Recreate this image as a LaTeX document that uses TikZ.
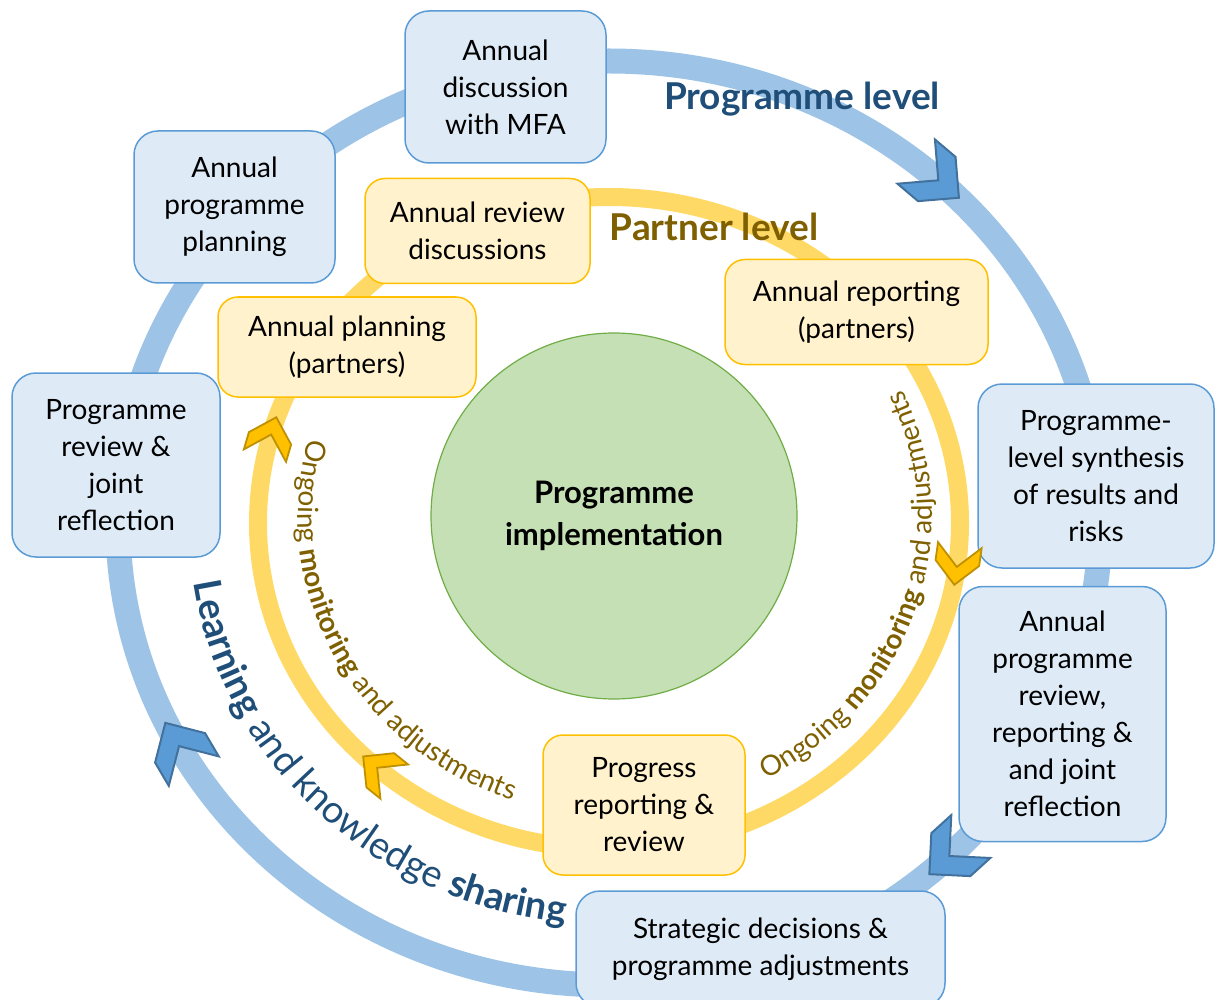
\documentclass[tikz,border=0pt]{standalone}
\usepackage{fontspec}
\setmainfont{Lato}
\usetikzlibrary{decorations.text}

\definecolor{ringblue}{HTML}{9DC3E6}
\definecolor{ringgold}{HTML}{FFD966}
\definecolor{chevblue}{HTML}{5B9BD5}
\definecolor{chevblueline}{HTML}{41719C}
\definecolor{chevgold}{HTML}{FFC000}
\definecolor{chevgoldline}{HTML}{BF9000}
\definecolor{boxblue}{HTML}{DEEBF7}
\definecolor{boxblueline}{HTML}{5B9BD5}
\definecolor{boxgold}{HTML}{FFF2CC}
\definecolor{boxgoldline}{HTML}{FFC000}
\definecolor{implgreen}{HTML}{C5E0B4}
\definecolor{implline}{HTML}{70AD47}
\definecolor{navytext}{HTML}{1F4E79}
\definecolor{goldtext}{HTML}{7F6000}

\newcommand{\boxfont}{\fontsize{28}{37}\selectfont}
\newcommand{\ytext}{\fontsize{28}{32}\selectfont\mdseries}
\newcommand{\ybold}{\fontsize{28}{32}\selectfont\bfseries}
\newcommand{\ltext}{\fontsize{38}{42}\selectfont\mdseries}
\newcommand{\lbold}{\fontsize{38}{42}\selectfont\bfseries}

\tikzset{
  progbox/.style={draw=boxblueline, fill=boxblue, line width=1.5pt,
    rounded corners=24pt, align=center, font=\boxfont, inner sep=0pt},
  partbox/.style={draw=boxgoldline, fill=boxgold, line width=1.5pt,
    rounded corners=20pt, align=center, font=\boxfont, inner sep=0pt},
  impl/.style={circle, draw=implline, fill=implgreen, line width=1.2pt,
    minimum size=366pt, align=center, font=\fontsize{31}{42}\selectfont\bfseries},
  ringtitle/.style={font=\fontsize{37}{40}\selectfont\bfseries},
  bluechev/.style={fill=chevblue, draw=chevblueline, line width=2pt, line join=miter},
  goldchev/.style={fill=chevgold, draw=chevgoldline, line width=1.8pt, line join=miter},
}

\begin{document}
\begin{tikzpicture}[x=1pt, y=1pt]
\useasboundingbox (0,0) rectangle (1215,-1000);

% Outer ring (programme level)
\draw[ringblue, line width=25pt] (609,-523) ellipse [x radius=491pt, y radius=462pt];

% Inner ring (partner level)
\draw[ringgold, line width=18pt] (609,-523) ellipse [x radius=351pt, y radius=326pt];

% Centre
\node[impl] (impl) at (614,-516) {Programme\\implementation};

% Programme level boxes
\node[progbox, minimum width=201pt, minimum height=152pt] (mfa) at (505.5,-87) {Annual\\discussion\\with MFA};
\node[progbox, minimum width=201pt, minimum height=152pt] (progplan) at (234.5,-207) {Annual\\programme\\planning};
\node[progbox, minimum width=208pt, minimum height=184pt] (progreview) at (116,-465) {Programme\\review \&\\joint\\reflection};
\node[progbox, minimum width=236pt, minimum height=184pt] (synthesis) at (1096,-476) {Programme-\\level synthesis\\of results and\\risks};
\node[progbox, minimum width=207pt, minimum height=255pt] (annreview) at (1062.5,-714) {Annual\\programme\\review,\\reporting \&\\and joint\\reflection};
\node[progbox, minimum width=369pt, minimum height=116pt] (strategic) at (760.5,-949) {Strategic decisions \&\\programme adjustments};

% Partner level boxes
\node[partbox, minimum width=225pt, minimum height=105pt] (revdisc) at (477.5,-231) {Annual review\\discussions};
\node[partbox, minimum width=258pt, minimum height=100pt] (partplan) at (347,-347) {Annual planning\\(partners)};
\node[partbox, minimum width=263pt, minimum height=105pt] (partreport) at (856.5,-312) {Annual reporting\\(partners)};
\node[partbox, minimum width=202pt, minimum height=140pt] (progress) at (644,-805) {Progress\\reporting \&\\review};

% Arrows on the rings, both turning clockwise
\foreach \t in {48,-46,209} {
  \pgfmathsetmacro\r{atan2(-462*cos(\t), 491*sin(\t))}
  \filldraw[bluechev, shift={({609+491*cos(\t)},{-523+462*sin(\t)})}, rotate=\r]
    (28,0) -- (-1,29) -- (-28,29) -- (1,0) -- (-28,-29) -- (-1,-29) -- cycle;
}
\foreach \t in {164.6,-7.4,229} {
  \pgfmathsetmacro\r{atan2(-326*cos(\t), 351*sin(\t))}
  \filldraw[goldchev, shift={({609+351*cos(\t)},{-523+326*sin(\t)})}, rotate=\r]
    (20,0) -- (-2,22) -- (-20,22) -- (2,0) -- (-20,-22) -- (-2,-22) -- cycle;
}

% Ring titles
\node[ringtitle, text=navytext] (proglevel) at (802,-99) {Programme level};
\node[ringtitle, text=goldtext] (partlevel) at (714,-227) {Partner level};

% Texts along the rings
\path[decorate, decoration={text along path, text align=center, text color=goldtext,
    text={|\ytext|Ongoing |\ybold|monitoring|\ytext| and adjustments}}]
  (614,-516) ++(156:316pt and 300pt) arc[start angle=156, end angle=260, x radius=316pt, y radius=300pt];
\path[decorate, decoration={text along path, text align=center, text color=goldtext,
    text={|\ytext|Ongoing |\ybold|monitoring|\ytext| and adjustments}}]
  (614,-516) ++(-72:318pt and 300pt) arc[start angle=-72, end angle=36, x radius=318pt, y radius=300pt];
\path[decorate, decoration={text along path, text align=center, text color=navytext,
    text={|\lbold|Learning|\ltext| and knowledge |\lbold|sharing}}]
  (609,-523) ++(176:420pt and 402pt) arc[start angle=176, end angle=276, x radius=420pt, y radius=402pt];
\end{tikzpicture}
\end{document}
